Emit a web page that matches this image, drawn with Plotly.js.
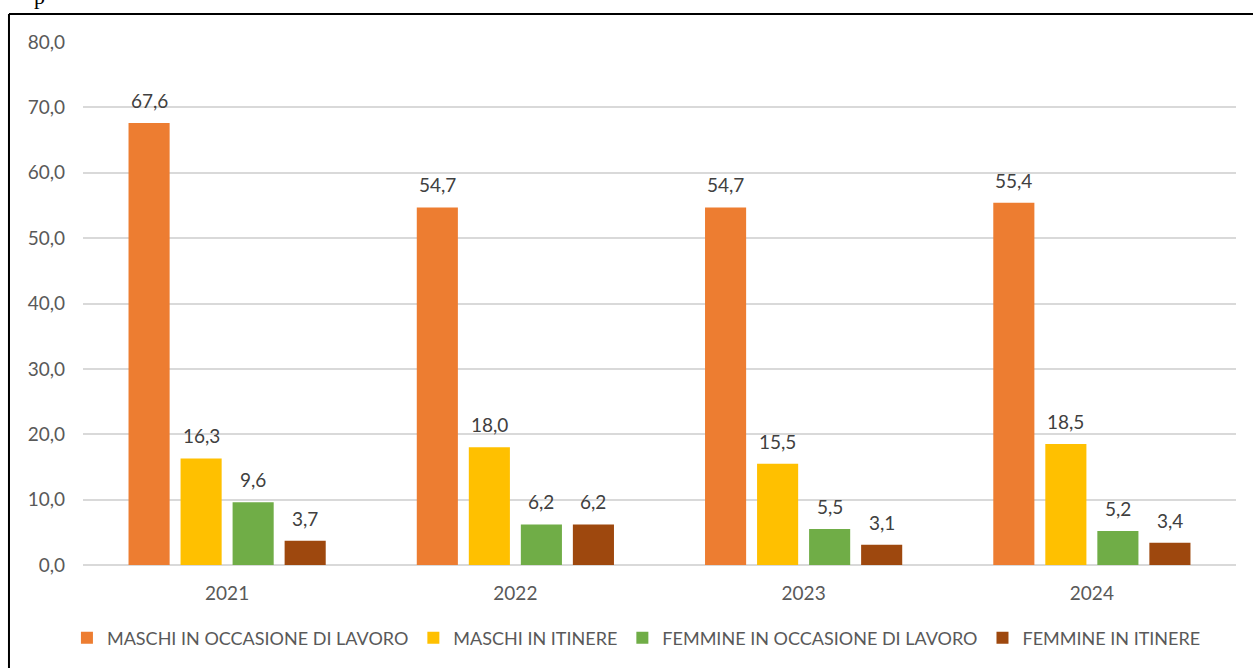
<!DOCTYPE html>
<html>
<head>
<meta charset="utf-8">
<script src="https://cdn.plot.ly/plotly-3.0.1.min.js"></script>
<style>
html,body{margin:0;padding:0;background:#fff;}
#chart{width:1253px;height:668px;}
</style>
</head>
<body>
<div id="chart"></div>
<script>
var years = ["2021", "2022", "2023", "2024"];
var seriesNames = ["MASCHI IN OCCASIONE DI LAVORO", "MASCHI IN ITINERE", "FEMMINE IN OCCASIONE DI LAVORO", "FEMMINE IN ITINERE"];
var maschiLavoro = [67.6, 54.7, 54.7, 55.4];
var maschiItinere = [16.3, 18.0, 15.5, 18.5];
var femmineLavoro = [9.6, 6.2, 5.5, 5.2];
var femmineItinere = [3.7, 6.2, 3.1, 3.4];
var colors = ["#ED7D31", "#FFC000", "#70AD47", "#9E480E"];
var yTicks = [0, 10, 20, 30, 40, 50, 60, 70, 80];

var FONT = "Lato, 'Noto Sans', sans-serif";
var W = 1253, H = 668;
var M = { l: 83, r: 17, t: 42, b: 103 };
var BARGAP = 0.278, BARGROUPGAP = 0.21;
var allValues = [maschiLavoro, maschiItinere, femmineLavoro, femmineItinere];

var traces = allValues.map(function (vals, i) {
  return {
    type: "bar",
    name: seriesNames[i],
    x: years,
    y: vals,
    marker: { color: colors[i] },
    hoverinfo: "skip"
  };
});

// data labels as annotations anchored on each bar (offset within the group)
var plotW = W - M.l - M.r;
var catW = plotW / years.length;
var slot = catW * (1 - BARGAP) / allValues.length;
var annotations = [];
allValues.forEach(function (vals, i) {
  var dx = (i - (allValues.length - 1) / 2) * slot;
  vals.forEach(function (v, j) {
    annotations.push({
      x: j, y: v, xref: "x", yref: "y",
      text: v.toFixed(1).replace(".", ","),
      showarrow: false, xanchor: "center", yanchor: "bottom",
      xshift: dx, yshift: 9,
      font: { family: FONT, size: 19, color: "#404040" }
    });
  });
});
annotations.push({
  text: "p", xref: "paper", yref: "paper", x: -0.0442, y: 1.059,
  xanchor: "left", yanchor: "bottom", showarrow: false,
  font: { family: "'Liberation Serif', serif", size: 22, color: "#000000" }
});

var layout = {
  width: W,
  height: H,
  separators: ",.",
  paper_bgcolor: "#ffffff",
  plot_bgcolor: "#ffffff",
  margin: { l: M.l, r: M.r, t: M.t, b: M.b, pad: 0, autoexpand: false },
  barmode: "group",
  bargap: BARGAP,
  bargroupgap: BARGROUPGAP,
  showlegend: true,
  legend: {
    orientation: "h",
    xref: "paper",
    x: 0.48,
    xanchor: "center",
    yref: "container",
    y: 0.0726,
    yanchor: "top",
    font: { family: FONT, size: 18, color: "#595959" },
    traceorder: "normal"
  },
  xaxis: {
    type: "category",
    range: [-0.5, years.length - 0.5],
    automargin: false,
    showgrid: false,
    showline: false,
    ticks: "",
    tickfont: { family: FONT, size: 19, color: "#595959" },
    ticklabelstandoff: 15
  },
  yaxis: {
    range: [0, 80],
    automargin: false,
    tickvals: yTicks,
    tickformat: ".1f",
    showgrid: true,
    gridcolor: "#D9D9D9",
    gridwidth: 2,
    zeroline: true,
    zerolinecolor: "#D9D9D9",
    zerolinewidth: 2,
    showline: false,
    ticks: "",
    tickfont: { family: FONT, size: 19, color: "#595959" },
    ticklabelstandoff: 17
  },
  shapes: [
    { type: "line", xref: "paper", yref: "paper", x0: -0.0642, x1: -0.0642, y0: -0.25, y1: 1.0535, line: { color: "#000000", width: 2 } },
    { type: "line", xref: "paper", yref: "paper", x0: -0.0642, x1: 1.02, y0: 1.0535, y1: 1.0535, line: { color: "#000000", width: 2 } }
  ],
  annotations: annotations
};

Plotly.newPlot("chart", traces, layout, { displayModeBar: false, staticPlot: true });
</script>
</body>
</html>
